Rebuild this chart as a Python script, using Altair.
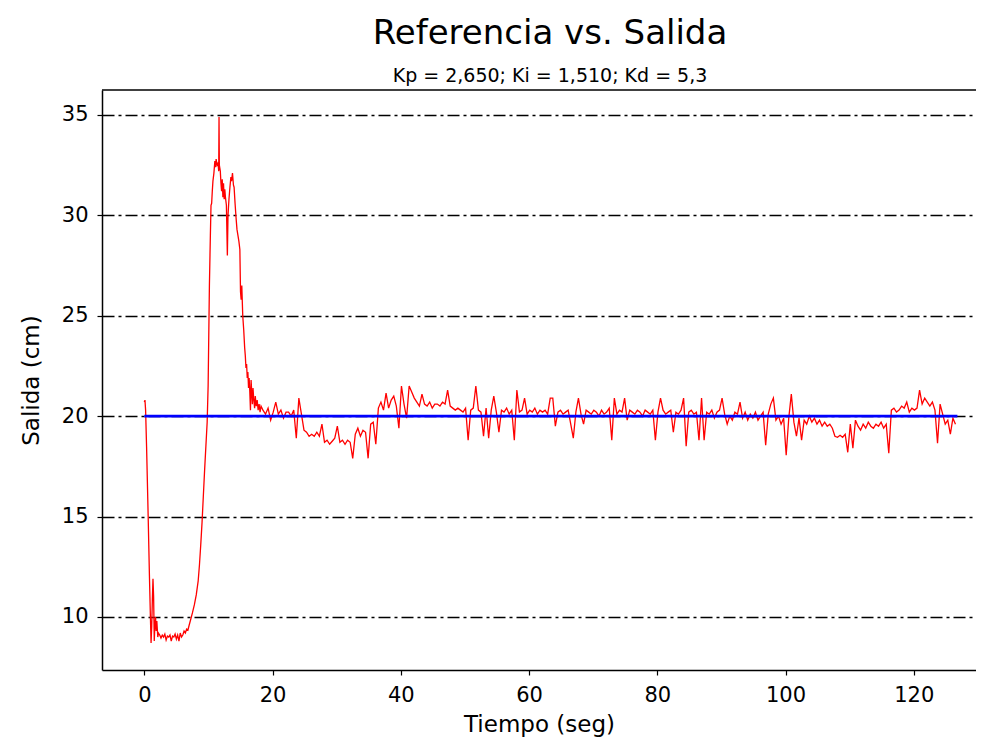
import altair as alt
import pandas as pd
import numpy as np

# ---------------- data ----------------
# transient part (time in s, output in cm)
t_trans = [0.0, 0.1, 0.2, 0.35, 0.6, 0.8, 0.95, 1.05, 1.15, 1.25,
           1.35, 1.45, 1.55, 1.65, 1.75, 1.85, 1.95, 2.1, 2.2, 2.4,
           2.6, 2.8, 3.0, 3.2, 3.4, 3.6, 3.8, 4.0, 4.2, 4.4,
           4.6, 4.8, 5.0, 5.2, 5.4, 5.6, 5.8, 6.0, 6.2, 6.4,
           6.6, 6.8, 7.0, 7.25, 7.5, 7.8, 8.1, 8.4, 8.6, 8.8,
           9.0, 9.2, 9.4, 9.6, 9.8, 9.95, 10.05, 10.15, 10.3, 10.4,
           10.5, 10.6, 10.7, 10.85, 11.0, 11.1, 11.2, 11.35, 11.5, 11.6,
           11.65, 11.7, 11.85, 11.95, 12.05, 12.15, 12.25, 12.35, 12.45, 12.55,
           12.65, 12.8, 12.95, 13.05, 13.2, 13.35, 13.5, 13.6, 13.75, 13.9,
           14.0, 14.15, 14.3, 14.45, 14.6, 14.75, 14.9, 15.0, 15.1, 15.2,
           15.35, 15.5, 15.65, 15.75, 15.85, 15.95, 16.05, 16.15, 16.25, 16.35,
           16.45, 16.55, 16.65, 16.75, 16.85, 16.95, 17.05, 17.2, 17.3, 17.45,
           17.6, 17.75, 17.9, 18.05, 18.2]
y_trans = [20.7, 20.8, 20.3, 18.5, 15.0, 12.0, 10.0, 8.7, 9.5, 10.8,
           11.9, 11.0, 8.8, 9.6, 10.0, 9.3, 9.8, 9.0, 9.2, 9.1,
           8.95, 9.1, 9.0, 9.15, 8.85, 9.05, 9.0, 9.1, 8.8, 9.05,
           9.0, 9.15, 8.9, 9.1, 8.8, 9.2, 9.0, 9.1, 9.3, 9.2,
           9.4, 9.35, 9.6, 9.9, 10.2, 10.6, 11.1, 11.8, 12.6, 13.6,
           14.7, 16.0, 17.3, 18.5, 19.7, 21.5, 24.0, 26.5, 29.0, 30.5,
           30.6, 31.2, 31.7, 32.1, 32.7, 32.4, 32.8, 32.5, 32.6, 32.2,
           34.9, 32.5, 32.2, 31.6, 31.2, 31.8, 30.9, 31.6, 30.8, 31.3,
           30.9, 30.5, 28.0, 30.0, 30.8, 31.4, 31.9, 31.7, 32.1, 31.5,
           31.4, 30.6, 29.9, 29.3, 29.0, 28.7, 28.3, 26.2, 25.8, 26.5,
           25.0, 24.3, 23.4, 23.0, 22.4, 22.6, 21.9, 22.2, 21.4, 21.9,
           21.2, 20.3, 21.8, 21.2, 20.6, 21.4, 20.9, 20.4, 21.0, 20.5,
           20.8, 20.3, 20.6, 20.2, 20.5]

# steady part: samples every 0.4 s starting at 18.5 s
t_start_steady = 18.5
dt_steady = 0.4
y_steady = [
    20.3, 20.1, 20.4, 19.8, 20.2, 20.7, 20.1, 20.3, 19.9, 20.2,   # 18.5
    20.2, 20.0, 20.3, 18.9, 20.9, 20.1, 19.3, 19.2, 19.0, 19.1,   # 22.5
    19.0, 19.2, 19.0, 19.6, 18.7, 18.8, 18.6, 18.75, 18.9, 19.5,  # 26.5
    18.7, 18.8, 18.6, 18.8, 18.7, 17.9, 19.1, 19.4, 19.0, 19.3,   # 30.5
    19.2, 17.9, 19.6, 19.7, 18.6, 20.4, 20.7, 20.3, 21.15, 20.4,  # 34.5
    20.8, 21.0, 20.5, 19.4, 21.5, 20.6, 19.9, 21.5, 21.2, 20.9,   # 38.5
    20.7, 20.5, 21.1, 20.6, 20.5, 20.7, 20.4, 20.6, 20.6, 20.5,   # 42.5
    20.7, 20.6, 21.3, 20.5, 20.4, 20.3, 20.4, 20.3, 20.2, 20.4,   # 46.5
    18.8, 20.3, 20.4, 21.5, 20.3, 20.2, 19.0, 20.4, 18.9, 20.3,   # 50.5
    21.0, 20.2, 19.2, 20.3, 20.2, 20.4, 20.1, 20.3, 18.8, 21.3,   # 54.5
    20.2, 20.3, 20.9, 20.1, 20.3, 20.2, 20.4, 20.1, 20.3, 20.2,   # 58.5
    20.3, 20.1, 20.9, 20.9, 19.5, 20.2, 20.3, 20.1, 20.2, 20.3,   # 62.5
    19.6, 18.9, 20.2, 20.9, 20.1, 19.6, 20.3, 20.2, 20.1, 20.3,   # 66.5
    20.2, 20.0, 20.3, 20.1, 20.2, 20.4, 18.8, 20.9, 20.1, 20.3,   # 70.5
    20.2, 20.9, 19.8, 20.3, 20.2, 20.1, 20.3, 20.2, 20.0, 20.3,   # 74.5
    20.2, 20.1, 20.3, 18.8, 20.2, 20.9, 20.3, 20.1, 20.2, 20.3,   # 78.5
    19.2, 20.2, 20.1, 20.3, 20.9, 18.5, 20.2, 20.3, 20.1, 20.2,   # 82.5
    18.8, 20.9, 18.8, 20.2, 20.1, 20.3, 19.9, 20.2, 20.3, 20.9,   # 86.5
    20.1, 19.6, 20.0, 19.8, 20.2, 20.1, 20.7, 19.9, 20.2, 19.8,   # 90.5
    20.1, 19.9, 20.2, 19.8, 20.0, 20.2, 18.55, 20.1, 20.6, 20.9,  # 94.5
    19.8, 20.0, 19.6, 19.9, 18.05, 19.9, 21.1, 19.7, 19.0, 19.9,  # 98.5
    18.8, 19.8, 19.6, 20.0, 19.7, 19.9, 19.6, 19.8, 19.5, 19.7,   # 102.5
    19.5, 19.6, 19.4, 19.0, 18.95, 19.05, 18.95, 19.1, 18.2, 19.6, # 106.5
    18.4, 19.8, 19.5, 19.3, 19.6, 19.4, 19.7, 19.5, 19.4, 19.6,   # 110.5
    19.5, 19.7, 19.4, 19.6, 18.15, 20.3, 20.4, 20.2, 20.3, 20.5,  # 114.5
    20.4, 20.7, 20.2, 20.4, 20.3, 20.4, 21.3, 20.6, 20.9, 20.7,   # 118.5
    20.5, 20.7, 20.3, 18.65, 20.6, 20.1, 19.6, 19.8, 19.1, 19.9,  # 122.5
    19.6,                                                         # 126.5
]

ref_t = [0.0, 126.8]
ref_y = [20.0, 20.0]

x_ticks = [0, 20, 40, 60, 80, 100, 120]
y_ticks = [10, 15, 20, 25, 30, 35]

title_text = "Referencia vs. Salida"
subtitle_text = "Kp = 2,650; Ki = 1,510; Kd = 5,3"

# ---------------- build tables ----------------
t_steady = [round(t_start_steady + dt_steady * i, 2) for i in range(len(y_steady))]
salida = pd.DataFrame({"t": t_trans + t_steady, "y": y_trans + y_steady})
referencia = pd.DataFrame({"t": ref_t, "y": ref_y})

W, H = 874, 580
FONT = "DejaVu Sans"

x_scale = alt.Scale(domain=[-6.6, 129.7], nice=False, zero=False)
y_scale = alt.Scale(domain=[7.36, 36.24], nice=False, zero=False)

x_axis = alt.Axis(values=x_ticks, title="Tiempo (seg)", grid=False,
                  labelFontSize=21, titleFontSize=23, labelPadding=9,
                  titlePadding=8, tickSize=5)
y_axis = alt.Axis(values=y_ticks, title="Salida (cm)", grid=True,
                  gridColor="black", gridDash=[12, 4, 3, 4], gridWidth=1.5,
                  gridOpacity=1, labelFontSize=21, titleFontSize=23,
                  labelPadding=9, titlePadding=18, tickSize=5)

red = alt.Chart(salida).mark_line(color="#ff0000", strokeWidth=1.3).encode(
    x=alt.X("t:Q", scale=x_scale, axis=x_axis),
    y=alt.Y("y:Q", scale=y_scale, axis=y_axis),
)

blue = alt.Chart(referencia).mark_line(color="#0000ff", strokeWidth=2.6).encode(
    x=alt.X("t:Q", scale=x_scale),
    y=alt.Y("y:Q", scale=y_scale),
)

top_border = alt.Chart(pd.DataFrame({"a": [0]})).mark_rule(
    color="black", strokeWidth=1.5
).encode(x=alt.value(0), x2=alt.value(W + 10), y=alt.value(0))

chart = alt.layer(red, blue, top_border).properties(
    width=W,
    height=H,
    autosize=alt.AutoSizeParams(type="none"),
    padding={"left": 94, "top": 82, "right": 0, "bottom": 74},
    title=alt.TitleParams(
        text=title_text,
        subtitle=subtitle_text,
        font=FONT,
        fontSize=34,
        fontWeight="normal",
        subtitleFont=FONT,
        subtitleFontSize=19,
        subtitleColor="black",
        subtitlePadding=16,
        color="black",
        anchor="middle",
        dx=11,
        offset=3,
    ),
).configure_view(stroke=None).configure_axis(
    labelFont=FONT,
    titleFont=FONT,
    titleFontWeight="normal",
    labelColor="black",
    titleColor="black",
    tickColor="black",
    domainColor="black",
    domainWidth=1.5,
    tickWidth=1.2,
)

chart.save("out.html", embed_options={"renderer": "svg", "actions": False})
